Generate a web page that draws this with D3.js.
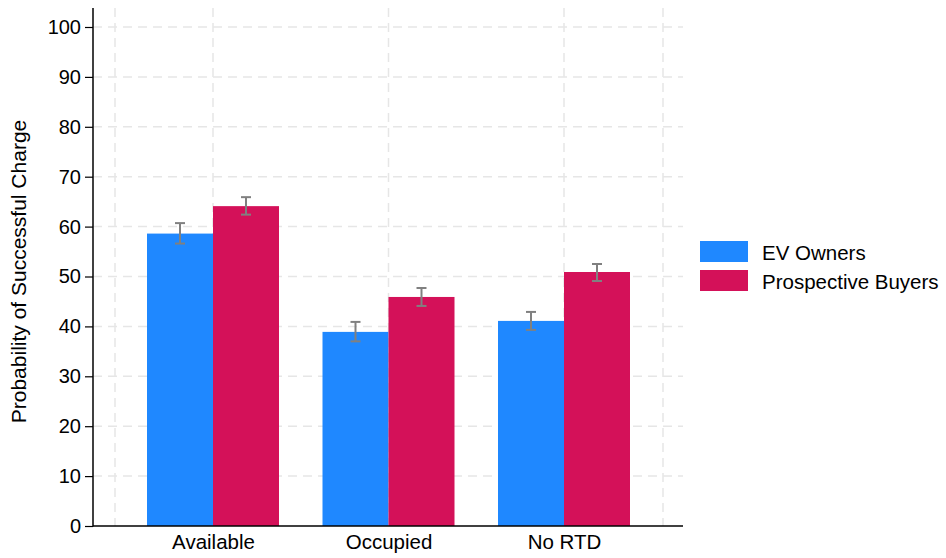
<!DOCTYPE html>
<html><head><meta charset="utf-8">
<script src="https://cdn.jsdelivr.net/npm/d3@7"></script>
<style>body{margin:0;background:#fff}svg{display:block;font-family:Arial,"Liberation Sans",sans-serif}</style>
</head><body>
<svg id="c" width="946" height="558"></svg>
<script>
const categories = ["Available", "Occupied", "No RTD"];
const seriesNames = ["EV Owners", "Prospective Buyers"];
const evOwners = [58.6, 38.9, 41.1];
const evOwnersLo = [56.6, 37.0, 39.3];
const evOwnersHi = [60.7, 40.9, 42.9];
const buyers = [64.1, 45.9, 50.9];
const buyersLo = [62.4, 44.1, 49.1];
const buyersHi = [65.9, 47.7, 52.5];
const yTicks = [0,10,20,30,40,50,60,70,80,90,100];
const colors = ["#1f88ff", "#d41159"];

const FONT = "Arial, 'Liberation Sans', sans-serif";
const svg = d3.select("#c");
const x0 = 93, x1 = 683, yTop = 8;
const y = d3.scaleLinear().domain([0,100]).range([526, 27]);
const x = d3.scalePoint().domain(categories).range([213, 564]);
const barW = 66;

// grid
const g = svg.append("g");
g.selectAll("line.h").data(yTicks.filter(d=>d>0)).enter().append("line")
  .attr("x1", x0).attr("x2", x1).attr("y1", d=>y(d)).attr("y2", d=>y(d))
  .attr("stroke", "#e6e6e6").attr("stroke-width", 1.5).attr("stroke-dasharray", "9,6");
const vgrid = [x("Available") - 98, ...categories.map(c=>x(c)), x("No RTD") + 99];
g.selectAll("line.v").data(vgrid).enter().append("line")
  .attr("x1", d=>d).attr("x2", d=>d).attr("y1", yTop).attr("y2", y(0))
  .attr("stroke", "#e6e6e6").attr("stroke-width", 1.5).attr("stroke-dasharray", "9,6");

const series = [
  {vals: evOwners, lo: evOwnersLo, hi: evOwnersHi, off: -1},
  {vals: buyers, lo: buyersLo, hi: buyersHi, off: 0}
];
series.forEach((s, si) => {
  svg.append("g").selectAll("rect").data(categories).enter().append("rect")
    .attr("x", (c)=> x(c) + s.off*barW)
    .attr("width", barW)
    .attr("y", (c,i)=> y(s.vals[i]))
    .attr("height", (c,i)=> y(0) - y(s.vals[i]))
    .attr("fill", colors[si]);
});
series.forEach((s) => {
  const eg = svg.append("g").attr("stroke", "#808080").attr("stroke-width", 2);
  categories.forEach((c,i)=>{
    const cx = x(c) + s.off*barW + barW/2;
    eg.append("line").attr("x1", cx).attr("x2", cx).attr("y1", y(s.lo[i])).attr("y2", y(s.hi[i]));
    eg.append("line").attr("x1", cx-5).attr("x2", cx+5).attr("y1", y(s.lo[i])).attr("y2", y(s.lo[i]));
    eg.append("line").attr("x1", cx-5).attr("x2", cx+5).attr("y1", y(s.hi[i])).attr("y2", y(s.hi[i]));
  });
});

// axes
const ya = svg.append("g").attr("transform", `translate(${x0},0)`)
  .call(d3.axisLeft(y).tickValues(yTicks).tickSize(8).tickPadding(4));
ya.select(".domain").remove();
ya.selectAll(".tick line").attr("stroke", "#000").attr("stroke-width", 1.2);
ya.selectAll("text").attr("font-size", 20).attr("fill", "#000").attr("font-family", FONT);
svg.append("line").attr("x1", x0).attr("x2", x0).attr("y1", yTop).attr("y2", y(0)+0.5).attr("stroke", "#000").attr("stroke-width", 1.5);
svg.append("line").attr("x1", x0).attr("x2", x1).attr("y1", y(0)).attr("y2", y(0)).attr("stroke", "#000").attr("stroke-width", 1.5);

const xa = svg.append("g").attr("transform", `translate(0,${y(0)})`)
  .call(d3.axisBottom(x).tickSize(0).tickPadding(9));
xa.select(".domain").remove();
xa.selectAll("text").attr("font-size", 20.5).attr("fill", "#000").attr("font-family", FONT)
  .attr("dy", null).attr("y", 23);

svg.append("text").attr("transform", `translate(26,${(115+428)/2}) rotate(-90)`)
  .attr("text-anchor", "middle").attr("font-size", 21).attr("fill", "#000")
  .text("Probability of Successful Charge");

// legend
const lg = svg.append("g");
seriesNames.forEach((n, i) => {
  lg.append("rect").attr("x", 700).attr("y", 241 + i*29).attr("width", 48).attr("height", 21).attr("fill", colors[i]);
  lg.append("text").attr("x", 762).attr("y", 260 + i*29).attr("font-size", 20.5).attr("fill", "#000").text(n);
});
</script>
</body></html>
